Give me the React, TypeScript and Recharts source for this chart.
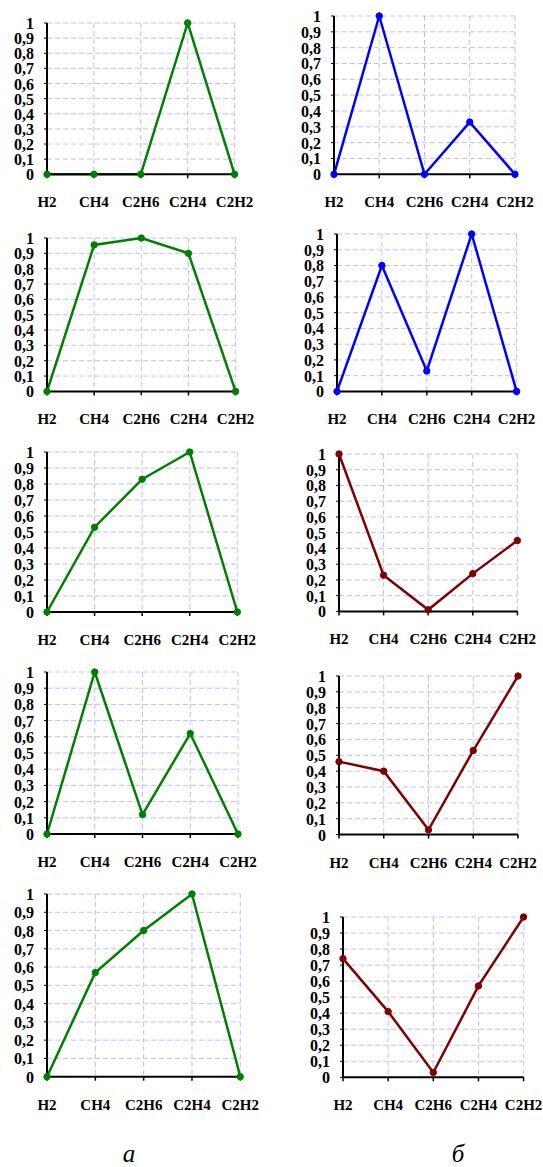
import { CartesianGrid, Line, LineChart, XAxis, YAxis } from "recharts";

const gases = ["H2", "CH4", "C2H6", "C2H4", "C2H2"];
const yTicks = [0, 0.1, 0.2, 0.3, 0.4, 0.5, 0.6, 0.7, 0.8, 0.9, 1];

// column "а"
const a1 = [0, 0, 0, 1, 0];
const a2 = [0, 0.955, 1, 0.9, 0];
const a3 = [0, 0.53, 0.83, 1, 0];
const a4 = [0, 1, 0.12, 0.62, 0];
const a5 = [0, 0.57, 0.8, 1, 0];

// column "б"
const b1 = [0, 1, 0, 0.33, 0];
const b2 = [0, 0.8, 0.13, 1, 0];
const b3 = [1, 0.23, 0.01, 0.24, 0.45];
const b4 = [0.46, 0.4, 0.03, 0.53, 1];
const b5 = [0.74, 0.41, 0.03, 0.57, 1];

const GREEN = "#008000";
const BLUE = "#0000ff";
const DARKRED = "#800000";

const YW = 46;
const TOP = 10;
const RIGHT = 32;
const XH = 40;

const FONT = "'Liberation Serif', 'Times New Roman', serif";

type Panel = { values: number[]; color: string; x0: number; x1: number; top: number; bottom: number };

const panels: Panel[] = [
  { values: a1, color: GREEN, x0: 46.7, x1: 234.3, top: 22.7, bottom: 174 },
  { values: a2, color: GREEN, x0: 46.7, x1: 235.3, top: 238.3, bottom: 391.7 },
  { values: a3, color: GREEN, x0: 46.7, x1: 237, top: 452, bottom: 612 },
  { values: a4, color: GREEN, x0: 46.7, x1: 237.7, top: 672, bottom: 834 },
  { values: a5, color: GREEN, x0: 46.7, x1: 240, top: 894.3, bottom: 1077 },
  { values: b1, color: BLUE, x0: 334.3, x1: 515.3, top: 15.7, bottom: 174 },
  { values: b2, color: BLUE, x0: 336.7, x1: 516.3, top: 234.3, bottom: 391.7 },
  { values: b3, color: DARKRED, x0: 339.3, x1: 517.7, top: 454.3, bottom: 611.7 },
  { values: b4, color: DARKRED, x0: 339.3, x1: 518.3, top: 675.7, bottom: 834.3 },
  { values: b5, color: DARKRED, x0: 342.7, x1: 523.3, top: 916.7, bottom: 1077 },
];

const fmt = (v: number) => String(v).replace(".", ",");

const XTick = ({ x, y, payload }: any) => (
  <text x={x} y={y + 27} textAnchor="middle" style={{ fontFamily: FONT, fontWeight: 700, fontSize: 15, fill: "#000" }}>
    {payload.value}
  </text>
);

const YTick = ({ x, y, payload }: any) => (
  <text x={x - 8} y={y + 6} textAnchor="end" style={{ fontFamily: FONT, fontWeight: 700, fontSize: 16, fill: "#000" }}>
    {fmt(payload.value)}
  </text>
);

const MiniChart = ({ values, color, x0, x1, top, bottom }: Panel) => {
  const data = gases.map((name, i) => ({ name, value: values[i] }));
  const width = YW + (x1 - x0) + RIGHT;
  const height = TOP + (bottom - top) + XH;
  return (
    <div style={{ position: "absolute", left: x0 - YW, top: top - TOP }}>
      <LineChart width={width} height={height} data={data} margin={{ top: TOP, right: RIGHT, bottom: 0, left: 0 }}>
        <CartesianGrid stroke="#bdbdff" strokeDasharray="5 3" strokeWidth={1} />
        <XAxis
          dataKey="name"
          interval={0}
          padding={{ left: 0, right: 0 }}
          height={XH}
          axisLine={{ stroke: "#000", strokeWidth: 2 }}
          tickLine={{ stroke: "#000", strokeWidth: 1.5 }}
          tickSize={4}
          tick={<XTick />}
        />
        <YAxis
          type="number"
          domain={[0, 1]}
          ticks={yTicks}
          interval={0}
          width={YW}
          axisLine={{ stroke: "#000", strokeWidth: 2 }}
          tickLine={{ stroke: "#000" }}
          tickSize={3}
          tick={<YTick />}
        />
        <Line
          type="linear"
          dataKey="value"
          stroke={color}
          strokeWidth={2.5}
          dot={{ r: 3.2, fill: color, stroke: color, strokeWidth: 1 }}
          isAnimationActive={false}
        />
      </LineChart>
    </div>
  );
};

const captionStyle = {
  position: "absolute" as const,
  top: 1140,
  width: 40,
  textAlign: "center" as const,
  fontFamily: FONT,
  fontStyle: "italic",
  fontSize: 25,
  color: "#000",
};

export default function App() {
  return (
    <div style={{ position: "absolute", left: 0, top: 0, width: 543, height: 1167, background: "#fff", overflow: "hidden" }}>
      {panels.map((p, i) => (
        <MiniChart key={i} {...p} />
      ))}
      <div style={{ ...captionStyle, left: 129 - 20 }}>а</div>
      <div style={{ ...captionStyle, left: 458 - 20 }}>б</div>
    </div>
  );
}
